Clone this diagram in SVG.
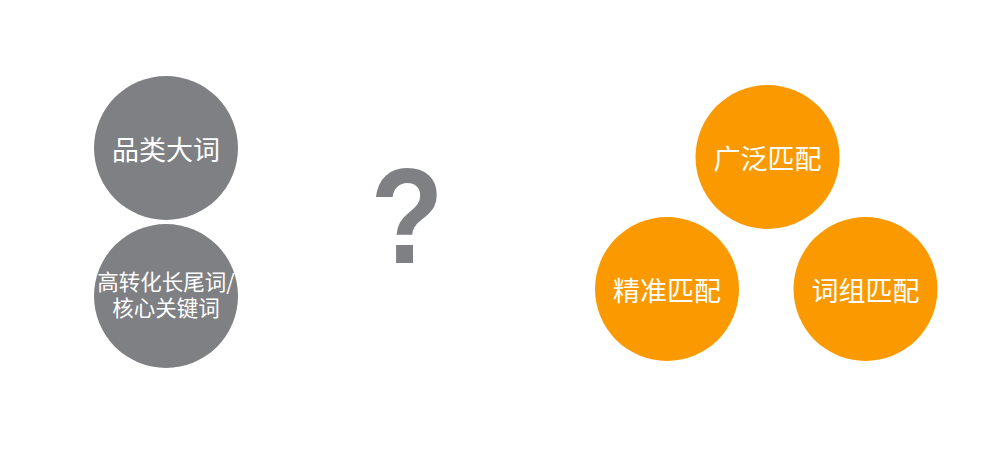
<svg xmlns="http://www.w3.org/2000/svg" width="993" height="469" viewBox="0 0 993 469">
<style>
.g{fill:#7f8084}
.o{fill:#fa9a00}
.t{fill:#ffffff;font-family:"Noto Sans CJK SC","Liberation Sans",sans-serif;text-anchor:middle}
.q{fill:#7f8084;font-family:"Liberation Sans","Arial",sans-serif;font-weight:bold;text-anchor:middle}
</style>
<rect width="993" height="469" fill="#ffffff"/>
<g id="node-pinlei">
<circle class="g" cx="166" cy="148" r="72"/>
<text class="t" x="166" y="160" font-size="27">品类大词</text>
</g>
<g id="node-changwei">
<circle class="g" cx="166" cy="296" r="72"/>
<text class="t" x="166" y="290" font-size="21.5">高转化长尾词/</text>
<text class="t" x="166" y="316" font-size="21.5">核心关键词</text>
</g>
<g id="question">
<text class="q" transform="translate(407 263) scale(0.88 1)" x="0" y="0" font-size="136">?</text>
</g>
<g id="node-guangfan">
<circle class="o" cx="767.5" cy="157" r="72"/>
<text class="t" x="767.5" y="169" font-size="27">广泛匹配</text>
</g>
<g id="node-jingzhun">
<circle class="o" cx="667" cy="289" r="72"/>
<text class="t" x="667" y="301" font-size="27">精准匹配</text>
</g>
<g id="node-cizu">
<circle class="o" cx="865.5" cy="289" r="72"/>
<text class="t" x="865.5" y="301" font-size="27">词组匹配</text>
</g>
<g id="connectors"></g>
</svg>
